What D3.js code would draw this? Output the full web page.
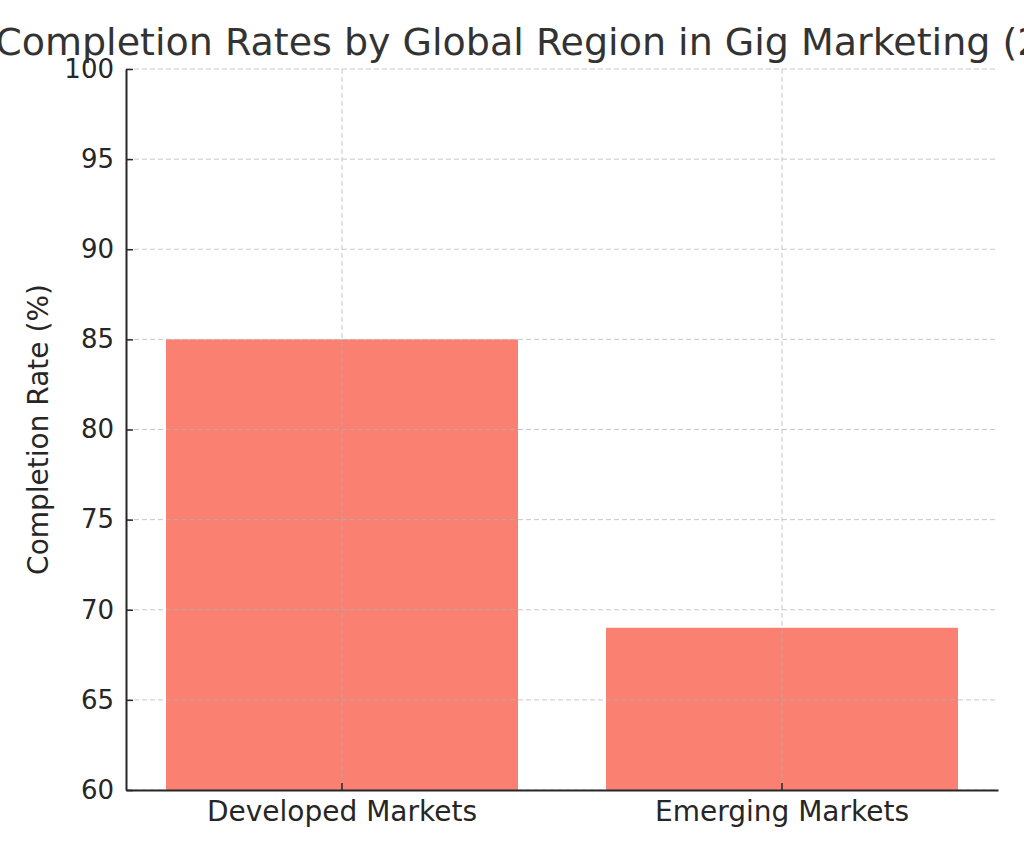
<!DOCTYPE html>
<html>
<head>
<meta charset="utf-8">
<script src="https://cdn.jsdelivr.net/npm/d3@7"></script>
<style>
  body { margin: 0; background: #fff; }
  svg { font-family: "DejaVu Sans", sans-serif; }
</style>
</head>
<body>
<div id="chart"></div>
<script>
// chart data
var regions = ["Developed Markets", "Emerging Markets"];
var completionRates = [85, 69];
var yTicks = [60, 65, 70, 75, 80, 85, 90, 95, 100];

var svgWidth = 1024;
var svgHeight = 853;

var margin = { top: 69, right: 26, bottom: 63, left: 126 };
var width = svgWidth - margin.left - margin.right;
var height = svgHeight - margin.top - margin.bottom;

var svg = d3.select("#chart")
  .append("svg")
  .attr("width", svgWidth)
  .attr("height", svgHeight);

var chartGroup = svg.append("g")
  .attr("transform", `translate(${margin.left}, ${margin.top})`);

var xScale = d3.scaleBand()
  .domain(regions)
  .range([0, width])
  .paddingInner(0.2)
  .paddingOuter(0.0909);

var yScale = d3.scaleLinear()
  .domain([60, 100])
  .range([height, 0]);

// bars
chartGroup.selectAll("rect.bar")
  .data(regions)
  .enter()
  .append("rect")
  .attr("class", "bar")
  .attr("x", d => xScale(d))
  .attr("width", xScale.bandwidth())
  .attr("y", (d, i) => yScale(completionRates[i]))
  .attr("height", (d, i) => height - yScale(completionRates[i]))
  .attr("fill", "#fa8072");

// grid lines (drawn over the bars)
chartGroup.append("g")
  .selectAll("line")
  .data(yTicks)
  .enter()
  .append("line")
  .attr("x1", 0)
  .attr("x2", width)
  .attr("y1", d => yScale(d))
  .attr("y2", d => yScale(d))
  .attr("stroke", "#b0b0b0")
  .attr("stroke-opacity", 0.7)
  .attr("stroke-dasharray", "5,3")
  .attr("stroke-width", 1);

chartGroup.append("g")
  .selectAll("line")
  .data(regions)
  .enter()
  .append("line")
  .attr("x1", d => xScale(d) + xScale.bandwidth() / 2)
  .attr("x2", d => xScale(d) + xScale.bandwidth() / 2)
  .attr("y1", 0)
  .attr("y2", height)
  .attr("stroke", "#b0b0b0")
  .attr("stroke-opacity", 0.7)
  .attr("stroke-dasharray", "5,3")
  .attr("stroke-width", 1);

// axes, ticks point inward
var leftAxis = d3.axisLeft(yScale)
  .tickValues(yTicks)
  .tickSizeInner(-7)
  .tickSizeOuter(0)
  .tickPadding(12);

var bottomAxis = d3.axisBottom(xScale)
  .tickSizeInner(-7)
  .tickSizeOuter(0)
  .tickPadding(11);

var yAxisG = chartGroup.append("g").call(leftAxis);
var xAxisG = chartGroup.append("g")
  .attr("transform", `translate(0, ${height})`)
  .call(bottomAxis);

[yAxisG, xAxisG].forEach(function(g) {
  g.select(".domain").attr("stroke", "#262626").attr("stroke-width", 2);
  g.selectAll(".tick line").attr("stroke", "#262626").attr("stroke-width", 1.5);
  g.selectAll(".tick text")
    .attr("fill", "#262626")
    .style("font-family", "DejaVu Sans");
});
yAxisG.selectAll(".tick text").style("font-size", "26px");
xAxisG.selectAll(".tick text").style("font-size", "28px");

// labels
chartGroup.append("text")
  .attr("transform", "rotate(-90)")
  .attr("x", 0 - height / 2)
  .attr("y", 0 - 78)
  .attr("text-anchor", "middle")
  .attr("fill", "#262626")
  .style("font-size", "28px")
  .text("Completion Rate (%)");

svg.append("text")
  .attr("x", margin.left + width / 2)
  .attr("y", 55)
  .attr("text-anchor", "middle")
  .attr("fill", "#333")
  .style("font-size", "38px")
  .text("Completion Rates by Global Region in Gig Marketing (2023)");
</script>
</body>
</html>
